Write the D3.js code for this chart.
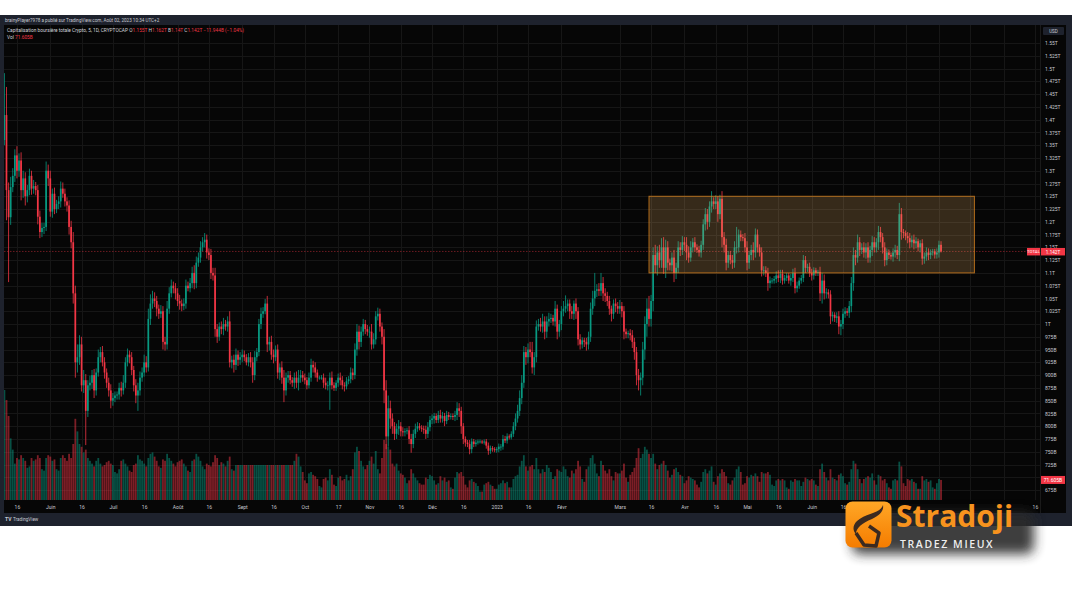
<!DOCTYPE html>
<html><head><meta charset="utf-8">
<script src="https://cdn.jsdelivr.net/npm/d3@7"></script>
<style>body{margin:0;background:#fff}svg{display:block}</style>
</head><body>
<svg id="c" width="1080" height="600"></svg>
<script>
// ---------- DATA (billions USD, daily, from 2022-05-10) ----------
const startDate = "2022-05-10";
const firstOpen = 1360;
const closes = [
 // May 2022 (10-31)
 1409,1262,1209,1268,1290,1330,1300,1320,1262,1285,1250,1262,1290,1265,1270,1262,1210,1180,1188,1190,1300,1285,
 // Jun 2022
 1220,1255,1225,1235,1240,1265,1255,1240,1232,1190,1160,1060,925,935,960,880,890,830,880,885,900,870,905,935,945,925,905,885,870,850,
 // Jul 2022
 855,860,862,875,870,885,925,940,935,910,880,860,870,895,905,925,915,1010,1040,1050,1045,1030,1020,1025,965,960,1030,1060,1075,1070,1060,
 // Aug 2022
 1045,1040,1035,1040,1075,1070,1080,1100,1080,1120,1130,1150,1160,1165,1140,1135,1100,1095,990,975,995,990,1000,995,1005,925,930,920,940,930,935,
 // Sep 2022
 940,935,925,935,925,900,935,945,1000,1020,1025,1040,960,965,940,935,950,905,915,895,870,895,900,890,885,895,885,895,900,895,
 // Oct 2022
 890,880,895,920,915,905,895,895,895,885,880,880,895,880,875,885,895,890,880,878,888,892,905,900,950,985,965,985,1000,990,985,
 // Nov 2022
 985,960,970,1015,1020,995,975,870,780,835,815,800,785,795,800,790,788,790,792,775,765,785,795,800,797,795,793,785,798,812,
 // Dec 2022
 815,820,812,822,815,820,810,822,818,820,818,822,835,830,800,775,768,765,755,770,765,768,770,770,768,770,762,752,757,755,753,
 // Jan 2023
 755,760,760,775,772,780,778,785,800,815,830,855,885,945,935,950,945,915,935,995,1000,995,1005,985,1005,1010,1012,1005,1030,985,1000,
 // Feb 2023
 1025,1030,1035,1040,1025,1020,1040,1025,970,960,968,965,960,975,1030,1050,1065,1068,1065,1080,1060,1055,1045,1030,1020,1040,1035,1030,
 // Mar 2023
 1035,1025,985,980,982,978,965,945,900,890,895,950,1000,1030,1010,1045,1135,1115,1140,1125,1150,1110,1150,1120,1115,1130,1100,1110,1150,1145,1160,
 // Apr 2023
 1155,1140,1130,1150,1160,1150,1145,1140,1155,1195,1215,1200,1230,1240,1235,1240,1215,1245,1170,1155,1120,1135,1125,1120,1150,1150,1175,1170,1168,1150,
 // May 2023
 1120,1135,1145,1140,1175,1150,1140,1105,1105,1100,1080,1085,1085,1088,1095,1090,1098,1085,1090,1095,1085,1090,1100,1070,1075,1085,1090,1125,1110,1112,1100,
 // Jun 2023
 1095,1105,1100,1102,1060,1085,1060,1062,1058,1015,1018,1012,1015,995,1000,1020,1025,1022,1035,1080,1135,1130,1160,1145,1150,1140,1150,1130,1145,1160,
 // Jul 2023
 1150,1160,1180,1170,1150,1125,1140,1135,1132,1140,1145,1135,1215,1180,1178,1172,1168,1160,1165,1158,1162,1150,1158,1128,1132,1140,1135,1140,1142,1136,1140,
 // Aug 2023 (1-2)
 1155,1142
];
const wickUp = [
 82,55,15,20,15,12,18,14,16,15,12,10,14,10,12,8,10,12,10,8,18,12,
 15,10,12,8,10,14,12,10,8,10,12,20,15,25,18,15,20,12,10,14,10,12,8,15,10,12,10,8,10,12,
 10,8,6,10,12,15,10,12,8,10,8,12,15,12,10,15,12,20,18,15,12,10,8,12,10,10,15,12,12,8,10,
 10,12,8,10,12,8,10,12,15,12,10,12,10,13,10,8,12,10,15,10,8,10,12,8,10,20,8,10,12,8,10,
 10,8,6,8,10,10,12,8,10,12,8,9,15,10,12,10,8,10,8,12,15,10,8,8,6,10,12,15,10,8,
 8,6,10,12,8,10,6,4,5,8,10,8,10,12,6,5,8,10,8,6,8,6,10,8,12,15,12,10,10,8,8,
 10,15,12,10,12,10,8,15,20,25,15,10,8,10,12,8,8,6,5,8,10,8,10,8,6,5,6,8,10,8,
 8,6,5,8,10,8,6,8,6,5,5,8,12,10,8,6,5,5,8,6,5,5,4,4,3,4,5,6,5,4,4,
 4,6,5,8,6,6,4,5,8,10,12,15,15,12,10,12,15,20,10,12,10,12,15,10,10,12,8,6,15,8,8,
 10,15,21,8,8,10,6,10,8,10,6,5,8,10,12,15,35,10,12,20,12,10,8,10,6,8,10,8,
 12,8,10,6,5,8,10,8,10,12,10,15,15,20,25,12,15,20,12,15,18,20,15,12,8,10,15,10,12,10,12,
 10,15,12,12,8,10,6,8,8,10,12,10,10,20,8,12,10,8,15,10,12,8,8,10,12,40,10,8,6,10,
 12,8,10,15,12,10,6,10,8,8,10,8,5,6,8,10,8,8,6,5,5,8,8,10,8,6,6,10,8,6,8,
 8,6,5,4,10,15,12,8,6,8,6,5,8,10,8,10,8,6,10,12,15,10,15,10,8,10,8,10,8,12,
 10,8,12,10,8,10,8,6,5,8,10,8,22,12,6,5,8,10,8,10,8,5,6,8,8,10,8,6,5,5,8,
 8,7
];
const wickDn = [
 10,59,127,15,10,12,15,12,20,15,18,12,10,12,10,10,15,12,10,12,8,15,
 10,12,10,8,10,12,8,10,12,15,12,20,30,20,15,12,15,67,12,10,12,15,10,8,10,8,12,10,12,15,
 10,8,8,10,12,8,10,8,12,10,12,15,30,10,8,8,10,8,12,10,12,15,10,8,15,12,10,10,8,10,12,
 10,12,10,8,10,6,8,10,12,10,8,10,8,10,12,10,12,10,15,12,8,10,12,8,10,10,12,15,10,12,10,
 10,8,6,8,10,15,10,8,8,10,8,6,15,12,10,12,8,12,15,12,23,10,10,8,8,12,10,15,10,8,
 8,8,6,8,10,10,8,4,4,10,8,10,48,8,6,6,8,10,8,10,6,6,8,10,8,12,15,10,8,10,8,
 12,10,8,10,8,10,15,25,25,20,20,15,12,10,12,10,8,8,6,10,17,8,8,6,5,6,8,10,8,8,
 8,10,6,6,8,8,10,6,6,5,6,8,10,12,15,10,8,6,10,8,6,5,4,4,3,4,6,8,6,5,4,
 5,6,8,6,5,6,4,4,6,8,8,10,12,10,15,12,10,12,15,10,8,10,12,15,12,10,8,8,10,15,10,
 12,10,8,10,15,10,12,15,12,10,8,10,12,10,10,12,15,12,10,10,15,12,10,12,15,10,12,10,
 10,12,15,8,8,10,12,15,20,20,30,15,20,25,15,15,20,15,20,15,15,12,20,15,10,12,18,12,10,12,10,
 12,15,10,8,10,8,6,8,10,10,12,15,10,12,10,10,15,10,20,15,15,10,8,12,10,12,10,8,6,10,
 15,12,10,15,10,10,8,12,10,8,15,10,6,6,8,8,10,8,6,6,6,10,8,10,8,6,6,8,10,8,8,
 10,8,6,6,15,20,12,10,8,15,10,8,10,15,17,10,8,6,10,12,15,15,10,12,8,10,12,10,10,12,
 10,10,15,10,12,12,10,8,6,10,10,8,12,15,10,8,10,12,10,12,10,8,10,12,10,8,10,8,6,8,8,
 10,2
];
const volumes = [
 393,357,300,220,180,130,150,145,160,150,140,115,120,150,140,145,160,150,110,105,150,160,
 155,140,145,110,105,150,160,150,140,165,150,200,290,245,200,190,170,180,150,140,130,120,140,150,130,120,125,135,140,130,
 125,100,95,110,140,145,130,120,105,100,125,130,160,145,140,130,120,150,165,170,155,140,120,115,145,140,165,150,140,130,120,
 135,140,145,130,120,105,100,140,145,165,155,140,120,110,130,125,120,135,160,150,125,135,130,120,140,155,110,105,125,125,125,
 125,125,125,125,125,125,125,125,125,125,125,125,125,125,125,125,125,125,125,125,125,125,125,125,125,140,165,155,120,100,
 70,60,95,100,90,85,75,50,45,75,80,70,110,90,55,50,80,85,70,75,90,70,85,110,170,190,175,140,120,110,125,
 140,155,130,175,110,95,150,215,200,190,180,130,120,130,105,95,90,80,60,70,110,95,80,70,60,55,55,80,75,90,
 85,70,55,60,85,70,80,65,70,45,40,80,100,95,100,85,55,45,70,75,65,60,50,30,30,55,60,65,55,50,40,
 40,55,60,70,60,65,45,45,75,85,90,120,140,160,120,105,120,125,110,150,110,95,110,100,125,115,100,75,85,110,105,
 100,120,110,85,80,105,95,110,140,120,75,65,110,120,150,160,130,95,85,140,125,105,95,110,85,70,100,95,
 95,105,130,80,65,90,100,115,150,185,150,165,190,180,165,150,165,130,110,125,130,140,125,105,80,90,110,115,100,90,85,
 60,70,85,80,75,70,55,45,65,100,110,95,105,120,65,55,85,95,110,100,85,60,55,70,80,110,120,100,55,60,
 85,80,90,85,95,85,65,100,95,95,100,90,55,50,70,75,70,75,70,45,40,70,65,75,70,70,50,65,80,75,70,
 75,70,55,50,110,130,100,80,70,110,80,75,70,90,95,85,60,55,65,110,140,130,110,75,60,75,80,85,80,95,
 70,55,90,85,70,75,60,45,40,70,75,70,137,120,60,50,75,70,75,65,60,40,40,85,70,75,65,70,45,40,60,
 75,71.6
];
const priceTicks = d3.range(675, 1551, 25);
const hiddenPriceLabels = [700]; // covered by the volume label in the reference
// time-axis labels (those hidden behind the Stradoji wordmark in the reference are left out)
const timeTickDates = ["2022-05-16","2022-06-01","2022-06-16","2022-07-01","2022-07-16","2022-08-01","2022-08-16","2022-09-01","2022-09-16","2022-10-01","2022-10-17","2022-11-01","2022-11-16","2022-12-01","2022-12-16","2023-01-01","2023-01-16","2023-02-01","2023-03-01","2023-03-16","2023-04-01","2023-04-16","2023-05-01","2023-05-16","2023-06-01","2023-06-16","2023-07-01","2023-09-16"];
const timeTickLabels = ["16","Juin","16","Juil","16","Août","16","Sept","16","Oct","17","Nov","16","Déc","16","2023","16","Févr","Mars","16","Avr","16","Mai","16","Juin","16","Juil","16"];
const gridOnlyDates = ["2023-07-16","2023-08-01","2023-08-16","2023-09-01"];
const zoneStart = "2023-03-15", zoneEnd = "2023-08-18", zoneTop = 1250, zoneBottom = 1100;
const lastVolumeLabel = "71.605B", lastPriceLabel = "1.142T";

// ---------- BUILD ----------
const svg = d3.select("#c");
const parse = s => new Date(s + "T00:00:00Z");
const day0 = parse(startDate);
const candles = closes.map((c, i) => {
  const o = i === 0 ? firstOpen : closes[i - 1];
  return {
    date: new Date(day0.getTime() + i * 86400000),
    o, c,
    h: Math.max(o, c) + wickUp[i],
    l: Math.min(o, c) - wickDn[i],
    v: volumes[i]
  };
});

const plot = {l: 4, r: 1040, t: 25, b: 500};
const x = d3.scaleUtc().domain([parse("2022-06-01"), parse("2023-06-01")]).range([50.3, 811.7]);
const y = d3.scaleLinear().domain([1000, 1550]).range([324, 43]);
const yv = d3.scaleLinear().domain([0, 400]).range([plot.b, plot.b - 112]);
const FONT = "Roboto, 'Liberation Sans', sans-serif";
const UP = "#089981", DN = "#f23645";

// frame
svg.append("rect").attr("x", 0).attr("y", 15).attr("width", 1072).attr("height", 511).attr("fill", "#1e222d");
svg.append("rect").attr("x", plot.l).attr("y", plot.t).attr("width", 1062).attr("height", 488).attr("fill", "#060606");

svg.append("text").attr("x", 5).attr("y", 22).attr("font-family", FONT).attr("font-size", 4.6)
  .attr("fill", "#c8cad2").text("brainyPlayer7978 a publié sur TradingView.com, Août 02, 2023 10:34 UTC+2");

const defs = svg.append("defs");
defs.append("clipPath").attr("id", "pc").append("rect")
  .attr("x", plot.l).attr("y", plot.t).attr("width", plot.r - plot.l).attr("height", plot.b - plot.t);

// grid
const grid = svg.append("g").attr("clip-path", "url(#pc)");
grid.selectAll(".hg").data(priceTicks).join("line")
  .attr("x1", plot.l).attr("x2", plot.r).attr("y1", d => Math.round(y(d)) + 0.5).attr("y2", d => Math.round(y(d)) + 0.5)
  .attr("stroke", "#161616").attr("stroke-width", 1);
grid.selectAll(".vg").data(timeTickDates.concat(gridOnlyDates)).join("line")
  .attr("y1", plot.t).attr("y2", plot.b).attr("x1", d => Math.round(x(parse(d))) + 0.5).attr("x2", d => Math.round(x(parse(d))) + 0.5)
  .attr("stroke", "#161616").attr("stroke-width", 1);

const g = svg.append("g").attr("clip-path", "url(#pc)");
// volume
g.selectAll(".vol").data(candles).join("rect")
  .attr("x", d => x(d.date) - 0.9).attr("width", 1.8)
  .attr("y", d => yv(d.v)).attr("height", d => plot.b - yv(d.v))
  .attr("fill", d => d.c >= d.o ? "rgba(8,153,129,0.5)" : "rgba(242,54,69,0.5)");
// wicks
g.selectAll(".wk").data(candles).join("line")
  .attr("x1", d => x(d.date)).attr("x2", d => x(d.date))
  .attr("y1", d => y(d.h)).attr("y2", d => y(d.l))
  .attr("stroke", d => d.c >= d.o ? UP : DN).attr("stroke-width", 0.8);
// bodies
g.selectAll(".bd").data(candles).join("rect")
  .attr("x", d => x(d.date) - 0.85).attr("width", 1.7)
  .attr("y", d => y(Math.max(d.o, d.c)))
  .attr("height", d => Math.max(0.8, Math.abs(y(d.o) - y(d.c))))
  .attr("fill", d => d.c >= d.o ? UP : DN);

// last price line
const last = candles[candles.length - 1];
g.append("line").attr("x1", plot.l).attr("x2", plot.r).attr("y1", y(last.c)).attr("y2", y(last.c))
  .attr("stroke", "rgba(242,54,69,0.55)").attr("stroke-width", 0.8).attr("stroke-dasharray", "1.5,1.5");

// zone rectangle
g.append("rect")
  .attr("x", x(parse(zoneStart))).attr("y", y(zoneTop))
  .attr("width", x(parse(zoneEnd)) - x(parse(zoneStart))).attr("height", y(zoneBottom) - y(zoneTop))
  .attr("fill", "rgba(250,190,110,0.2)").attr("stroke", "rgba(225,135,30,0.75)").attr("stroke-width", 1);

// price axis
const pax = svg.append("g").attr("transform", `translate(${plot.r + 3},0)`)
  .call(d3.axisRight(y).tickValues(priceTicks.filter(v => !hiddenPriceLabels.includes(v))).tickSize(0).tickPadding(2)
    .tickFormat(v => v >= 1000 ? (v / 1000) + "T" : v + "B"));
pax.select(".domain").remove();
pax.selectAll("text").attr("font-family", FONT).attr("font-size", 5).attr("fill", "#c8cad2");
svg.append("line").attr("x1", plot.r + 0.5).attr("x2", plot.r + 0.5).attr("y1", plot.t).attr("y2", plot.b + 13).attr("stroke", "#1a1a1a");

// USD box
svg.append("rect").attr("x", 1043).attr("y", 27).attr("width", 21).attr("height", 8).attr("rx", 1).attr("fill", "#1e222d");
svg.append("text").attr("x", 1053.5).attr("y", 32.8).attr("text-anchor", "middle").attr("font-family", FONT)
  .attr("font-size", 4.6).attr("fill", "#c8cad2").text("USD");

// last price label
svg.append("rect").attr("x", 1027).attr("y", y(last.c) - 3.5).attr("width", 13).attr("height", 7.5).attr("fill", DN);
svg.append("text").attr("x", 1033.5).attr("y", y(last.c) + 2).attr("text-anchor", "middle").attr("font-family", FONT)
  .attr("font-size", 4.3).attr("fill", "#fff").text("TOTAL");
svg.append("rect").attr("x", plot.r + 1).attr("y", y(last.c) - 3.5).attr("width", 24).attr("height", 7.5).attr("fill", DN);
svg.append("text").attr("x", plot.r + 13).attr("y", y(last.c) + 2.1).attr("text-anchor", "middle").attr("font-family", FONT)
  .attr("font-size", 4.6).attr("fill", "#fff").text(lastPriceLabel);

// volume label
svg.append("rect").attr("x", plot.r + 1).attr("y", yv(last.v) - 4).attr("width", 24).attr("height", 8).attr("fill", DN);
svg.append("text").attr("x", plot.r + 13).attr("y", yv(last.v) + 1.8).attr("text-anchor", "middle").attr("font-family", FONT)
  .attr("font-size", 5).attr("fill", "#fff").text(lastVolumeLabel);

// time axis
const tax = svg.append("g").attr("transform", `translate(0,${plot.b})`)
  .call(d3.axisBottom(x).tickValues(timeTickDates.map(parse)).tickSize(0).tickPadding(5)
    .tickFormat((d, i) => timeTickLabels[i]));
tax.select(".domain").remove();
tax.selectAll("text").attr("font-family", FONT).attr("font-size", 5).attr("fill", "#c8cad2");

// legend
const lg = svg.append("text").attr("x", 7).attr("y", 32).attr("font-family", FONT).attr("font-size", 4.8).attr("fill", "#d1d4dc");
lg.append("tspan").text("Capitalisation boursière totale Crypto, 5, 1D, CRYPTOCAP  ");
[["O", "1.155T"], ["H", "1.162T"], ["B", "1.14T"], ["C", "1.142T"]].forEach(([k, v]) => {
  lg.append("tspan").text(k);
  lg.append("tspan").attr("fill", DN).text(v + "  ");
});
lg.append("tspan").attr("fill", DN).text("−11.944B (−1.04%)");
const lg2 = svg.append("text").attr("x", 7).attr("y", 39).attr("font-family", FONT).attr("font-size", 4.8).attr("fill", "#d1d4dc");
lg2.append("tspan").text("Vol  ");
lg2.append("tspan").attr("fill", DN).text(lastVolumeLabel);

// bottom bar
svg.append("text").attr("x", 5).attr("y", 521).attr("font-family", FONT).attr("font-size", 5).attr("font-weight", "bold")
  .attr("fill", "#c8cad2").text("TV");
svg.append("text").attr("x", 13).attr("y", 521).attr("font-family", FONT).attr("font-size", 4.6)
  .attr("fill", "#c8cad2").text("TradingView");

// Stradoji logo
const f = defs.append("filter").attr("id", "sh").attr("x", "-20%").attr("y", "-40%").attr("width", "140%").attr("height", "180%");
f.append("feGaussianBlur").attr("stdDeviation", 6);
const gr = defs.append("linearGradient").attr("id", "og").attr("x1", 0).attr("y1", 0).attr("x2", 0).attr("y2", 1);
gr.append("stop").attr("offset", 0).attr("stop-color", "#ffa726");
gr.append("stop").attr("offset", 1).attr("stop-color", "#f57c00");
svg.append("rect").attr("x", 852).attr("y", 512).attr("width", 182).attr("height", 42).attr("rx", 8)
  .attr("fill", "#2a2a2a").attr("opacity", 0.9).attr("filter", "url(#sh)");
svg.append("rect").attr("x", 845.5).attr("y", 501.5).attr("width", 46).attr("height", 46).attr("rx", 7).attr("fill", "url(#og)");
svg.append("path").attr("d", "M883,505 C880,514 866,513 857,521 C852,526 853,531 856,534 C856,528 862,523 872,519 C880,515 884,511 883,505 Z")
  .attr("fill", "#3b2a20");
svg.append("path").attr("d", "M856,533 L864,545 L876,546 L879,533 L869,526")
  .attr("fill", "none").attr("stroke", "#3b2a20").attr("stroke-width", 3.5).attr("stroke-linejoin", "round");
svg.append("text").attr("x", 896).attr("y", 527).attr("font-family", "'Open Sans', 'Noto Sans', sans-serif").attr("font-weight", 700)
  .attr("font-size", 30).attr("fill", "#f7931e").text("Stradoji");
svg.append("text").attr("x", 900).attr("y", 548).attr("font-family", "'Open Sans', 'Noto Sans', sans-serif").attr("font-weight", 600)
  .attr("font-size", 10.5).attr("letter-spacing", 1.6).attr("fill", "#eeeeee").text("TRADEZ MIEUX");
</script>
</body></html>
